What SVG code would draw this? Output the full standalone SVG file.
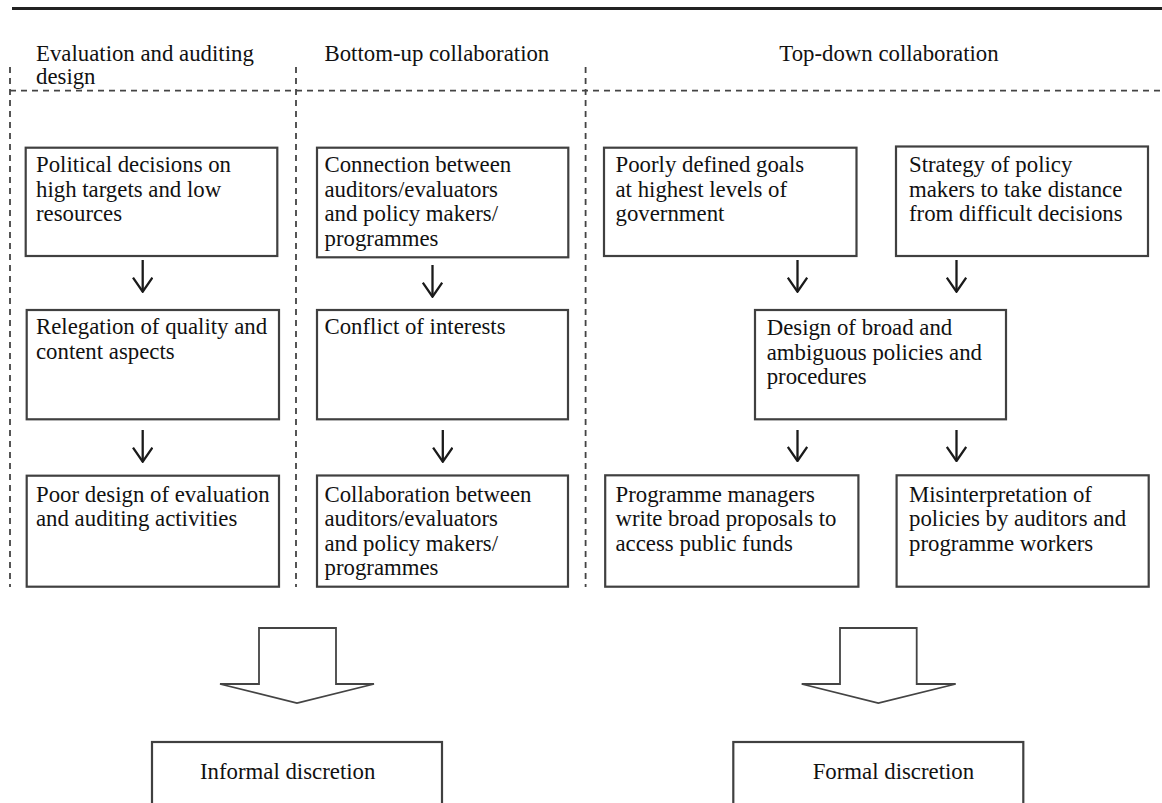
<svg xmlns="http://www.w3.org/2000/svg" width="1162" height="803" viewBox="0 0 1162 803">
<defs>
<style>
text{font-family:"Liberation Serif","Times New Roman",serif;font-size:22.8px;fill:#111;}
.box{fill:#fff;stroke:#404040;stroke-width:2.2;}
.dash{fill:none;stroke:#444;stroke-width:1.8;stroke-dasharray:6 5;}
.conn{fill:none;stroke:#1a1a1a;stroke-width:2.3;}
.big{fill:#fff;stroke:#444;stroke-width:1.8;stroke-linejoin:miter;}
</style>
<marker id="ah" viewBox="0 0 16 21" refX="15" refY="10.5" markerWidth="16" markerHeight="21" markerUnits="userSpaceOnUse" orient="auto">
<path d="M1,0.8 L15,10.5 L1,20.2" fill="none" stroke="#1a1a1a" stroke-width="2.3"/>
</marker>
</defs>
<rect width="1162" height="803" fill="#fff"/>
<line x1="12" y1="8.5" x2="1162" y2="8.5" stroke="#222" stroke-width="3"/>
<g id="headers">
<text x="36" y="60.5">Evaluation and auditing</text>
<text x="36" y="83.5">design</text>
<text x="324.5" y="60.5">Bottom-up collaboration</text>
<text x="779.3" y="60.5">Top-down collaboration</text>
</g>
<g id="frame">
<line class="dash" x1="10" y1="67" x2="10" y2="587"/>
<line class="dash" x1="296" y1="67" x2="296" y2="587"/>
<line class="dash" x1="585.6" y1="67" x2="585.6" y2="587"/>
<line class="dash" x1="10" y1="90.7" x2="1162" y2="90.7"/>
</g>
<g id="n1"><rect class="box" x="25.7" y="147.7" width="251.6" height="108.3"/>
<text x="36" y="172.3">Political decisions on</text><text x="36" y="196.8">high targets and low</text><text x="36" y="221.3">resources</text></g>
<g id="n2"><rect class="box" x="26.7" y="310" width="252.3" height="109.3"/>
<text x="36" y="334">Relegation of quality and</text><text x="36" y="358.5">content aspects</text></g>
<g id="n3"><rect class="box" x="26.7" y="475.7" width="252.3" height="111"/>
<text x="36" y="501.7">Poor design of evaluation</text><text x="36" y="526.2">and auditing activities</text></g>
<g id="n4"><rect class="box" x="317" y="147.7" width="251.3" height="109.6"/>
<text x="324.5" y="172.3">Connection between</text><text x="324.5" y="196.8">auditors/evaluators</text><text x="324.5" y="221.3">and policy makers/</text><text x="324.5" y="245.8">programmes</text></g>
<g id="n5"><rect class="box" x="317" y="310" width="251" height="109.3"/>
<text x="324.5" y="334">Conflict of interests</text></g>
<g id="n6"><rect class="box" x="317" y="475.5" width="251" height="111.2"/>
<text x="324.5" y="501.7">Collaboration between</text><text x="324.5" y="526.2">auditors/evaluators</text><text x="324.5" y="550.7">and policy makers/</text><text x="324.5" y="575.2">programmes</text></g>
<g id="n7"><rect class="box" x="604" y="147.7" width="252.5" height="108.3"/>
<text x="615.5" y="172.3">Poorly defined goals</text><text x="615.5" y="196.8">at highest levels of</text><text x="615.5" y="221.3">government</text></g>
<g id="n8"><rect class="box" x="896" y="146.5" width="252" height="109.5"/>
<text x="909" y="172.3">Strategy of policy</text><text x="909" y="196.8">makers to take distance</text><text x="909" y="221.3">from difficult decisions</text></g>
<g id="n9"><rect class="box" x="755" y="310" width="251" height="109.3"/>
<text x="766.7" y="335">Design of broad and</text><text x="766.7" y="359.5">ambiguous policies and</text><text x="766.7" y="384">procedures</text></g>
<g id="n10"><rect class="box" x="605.2" y="475.3" width="253.2" height="111.4"/>
<text x="615.5" y="501.7">Programme managers</text><text x="615.5" y="526.2">write broad proposals to</text><text x="615.5" y="550.7">access public funds</text></g>
<g id="n11"><rect class="box" x="896.6" y="475.3" width="252.1" height="111.4"/>
<text x="909" y="501.7">Misinterpretation of</text><text x="909" y="526.2">policies by auditors and</text><text x="909" y="550.7">programme workers</text></g>
<g id="n12"><rect class="box" x="152" y="742" width="290" height="90"/>
<text x="200" y="779">Informal discretion</text></g>
<g id="n13"><rect class="box" x="733.3" y="742" width="290" height="90"/>
<text x="812.7" y="779">Formal discretion</text></g>
<g id="connectors">
<line class="conn" x1="142.7" y1="260" x2="142.7" y2="291.7" marker-end="url(#ah)"/>
<line class="conn" x1="142.7" y1="430" x2="142.7" y2="461.7" marker-end="url(#ah)"/>
<line class="conn" x1="432.5" y1="265" x2="432.5" y2="296.7" marker-end="url(#ah)"/>
<line class="conn" x1="442.8" y1="430" x2="442.8" y2="461.7" marker-end="url(#ah)"/>
<line class="conn" x1="797.5" y1="260" x2="797.5" y2="291.7" marker-end="url(#ah)"/>
<line class="conn" x1="956.5" y1="260" x2="956.5" y2="291.7" marker-end="url(#ah)"/>
<line class="conn" x1="797.5" y1="430" x2="797.5" y2="461" marker-end="url(#ah)"/>
<line class="conn" x1="956.5" y1="430" x2="956.5" y2="461" marker-end="url(#ah)"/>
<polygon class="big" points="259,628 336,628 336,684 374,684 297,703 220,684 259,684"/>
<polygon class="big" points="840,628 916.7,628 916.7,684 955.7,684 878.3,703 801.7,684 840,684"/>
</g>
</svg>
